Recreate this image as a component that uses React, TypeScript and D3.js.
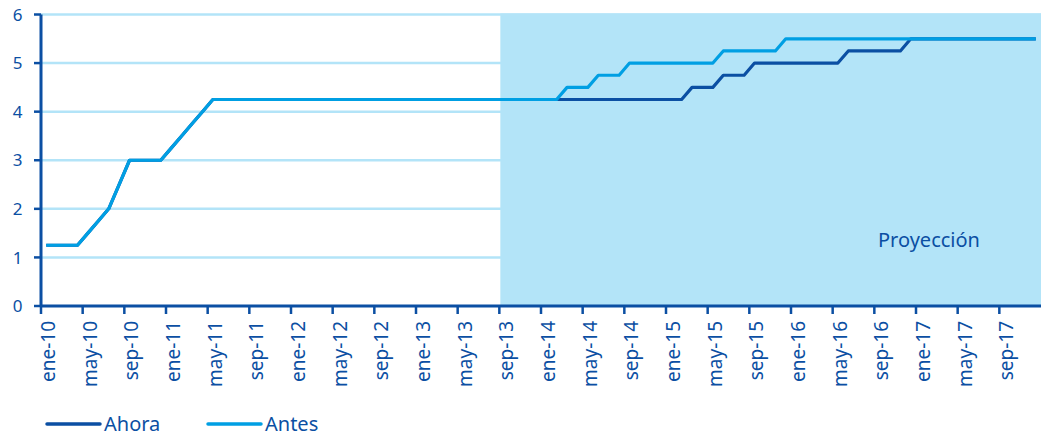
import React from "react";
import * as d3 from "d3";

// Monthly policy-rate path, ene-10 .. dic-17
const monthNames = ["ene", "feb", "mar", "abr", "may", "jun", "jul", "ago", "sep", "oct", "nov", "dic"];
const years = ["10", "11", "12", "13", "14", "15", "16", "17"];
const categories = years.flatMap((y) => monthNames.map((m) => `${m}-${y}`));

const ahora = [
  1.25, 1.25, 1.25, 1.25, 1.5, 1.75, 2.0, 2.5, 3.0, 3.0, 3.0, 3.0,
  3.25, 3.5, 3.75, 4.0, 4.25, 4.25, 4.25, 4.25, 4.25, 4.25, 4.25, 4.25,
  4.25, 4.25, 4.25, 4.25, 4.25, 4.25, 4.25, 4.25, 4.25, 4.25, 4.25, 4.25,
  4.25, 4.25, 4.25, 4.25, 4.25, 4.25, 4.25, 4.25, 4.25, 4.25, 4.25, 4.25,
  4.25, 4.25, 4.25, 4.25, 4.25, 4.25, 4.25, 4.25, 4.25, 4.25, 4.25, 4.25,
  4.25, 4.25, 4.5, 4.5, 4.5, 4.75, 4.75, 4.75, 5.0, 5.0, 5.0, 5.0,
  5.0, 5.0, 5.0, 5.0, 5.0, 5.25, 5.25, 5.25, 5.25, 5.25, 5.25, 5.5,
  5.5, 5.5, 5.5, 5.5, 5.5, 5.5, 5.5, 5.5, 5.5, 5.5, 5.5, 5.5,
];

const antes = [
  1.25, 1.25, 1.25, 1.25, 1.5, 1.75, 2.0, 2.5, 3.0, 3.0, 3.0, 3.0,
  3.25, 3.5, 3.75, 4.0, 4.25, 4.25, 4.25, 4.25, 4.25, 4.25, 4.25, 4.25,
  4.25, 4.25, 4.25, 4.25, 4.25, 4.25, 4.25, 4.25, 4.25, 4.25, 4.25, 4.25,
  4.25, 4.25, 4.25, 4.25, 4.25, 4.25, 4.25, 4.25, 4.25, 4.25, 4.25, 4.25,
  4.25, 4.25, 4.5, 4.5, 4.5, 4.75, 4.75, 4.75, 5.0, 5.0, 5.0, 5.0,
  5.0, 5.0, 5.0, 5.0, 5.0, 5.25, 5.25, 5.25, 5.25, 5.25, 5.25, 5.5,
  5.5, 5.5, 5.5, 5.5, 5.5, 5.5, 5.5, 5.5, 5.5, 5.5, 5.5, 5.5,
  5.5, 5.5, 5.5, 5.5, 5.5, 5.5, 5.5, 5.5, 5.5, 5.5, 5.5, 5.5,
];

const yTicks = [0, 1, 2, 3, 4, 5, 6];
const projectionStart = "sep-13";
const projectionLabel = "Proyección";
const seriesNames = ["Ahora", "Antes"];

const W = 1041;
const H = 437;
const DARK = "#0b4fa3";
const LIGHT = "#009fe3";
const SHADE = "#b3e4f8";

export default function App() {
  const x = d3.scaleBand<string>().domain(categories).range([41, 1041]).paddingInner(0).paddingOuter(0);
  const y = d3.scaleLinear().domain([0, 6]).range([306, 14.5]);
  const bw = x.bandwidth();

  const line = d3
    .line<number>()
    .x((_, i) => (x(categories[i]) as number) + bw / 2)
    .y((d) => y(d));

  const tickCats = categories.filter((_, i) => i % 4 === 0);
  const shadeX = (x(projectionStart) as number) + 1;

  return (
    <svg
      width={W}
      height={H}
      style={{ position: "absolute", left: 0, top: 0, background: "#fff" }}
    >
      {/* horizontal gridlines */}
      {yTicks.filter((t) => t > 0).map((t) => (
        <line key={t} x1={41} x2={W} y1={y(t)} y2={y(t)} stroke={SHADE} strokeWidth={2.5} />
      ))}
      {/* projection area */}
      <rect x={shadeX} y={y(6) - 1} width={W - shadeX} height={y(0) - y(6) + 1} fill={SHADE} />
      <text
        x={878}
        y={247}
        fill={DARK}
        fontFamily="'Noto Sans', sans-serif"
        fontSize={20}
      >
        {projectionLabel}
      </text>

      {/* series */}
      <path d={line(ahora) ?? ""} fill="none" stroke={DARK} strokeWidth={3.2} strokeLinejoin="round" />
      <path d={line(antes) ?? ""} fill="none" stroke={LIGHT} strokeWidth={3.2} strokeLinejoin="round" />

      {/* y axis */}
      <line x1={41} x2={41} y1={y(6)} y2={y(0)} stroke={DARK} strokeWidth={3} />
      {yTicks.map((t) => (
        <g key={t}>
          <line x1={34} x2={41} y1={y(t)} y2={y(t)} stroke={DARK} strokeWidth={2.5} />
          <text
            x={22.5}
            y={y(t)}
            dy="0.36em"
            textAnchor="end"
            fill={DARK}
            fontFamily="'Noto Sans', sans-serif"
            fontSize={17}
          >
            {t}
          </text>
        </g>
      ))}

      {/* x axis */}
      <line x1={41} x2={W} y1={y(0)} y2={y(0)} stroke={DARK} strokeWidth={3} />
      {tickCats.map((c) => {
        const tx = x(c) as number;
        return (
          <g key={c}>
            <line x1={tx} x2={tx} y1={y(0)} y2={y(0) + 8} stroke={DARK} strokeWidth={2.5} />
            <text
              transform={`translate(${tx + 14},321) rotate(-90)`}
              textAnchor="end"
              fill={DARK}
              fontFamily="'Noto Sans', sans-serif"
              fontSize={19}
            >
              {c}
            </text>
          </g>
        );
      })}

      {/* legend */}
      {seriesNames.map((name, i) => {
        const lx = i === 0 ? 47 : 208;
        return (
          <g key={name}>
            <line
              x1={lx}
              x2={lx + 53}
              y1={424}
              y2={424}
              stroke={i === 0 ? DARK : LIGHT}
              strokeWidth={3.5}
              strokeLinecap="round"
            />
            <text
              x={lx + 57}
              y={431}
              fill={DARK}
              fontFamily="'Noto Sans', sans-serif"
              fontSize={20}
            >
              {name}
            </text>
          </g>
        );
      })}
    </svg>
  );
}
